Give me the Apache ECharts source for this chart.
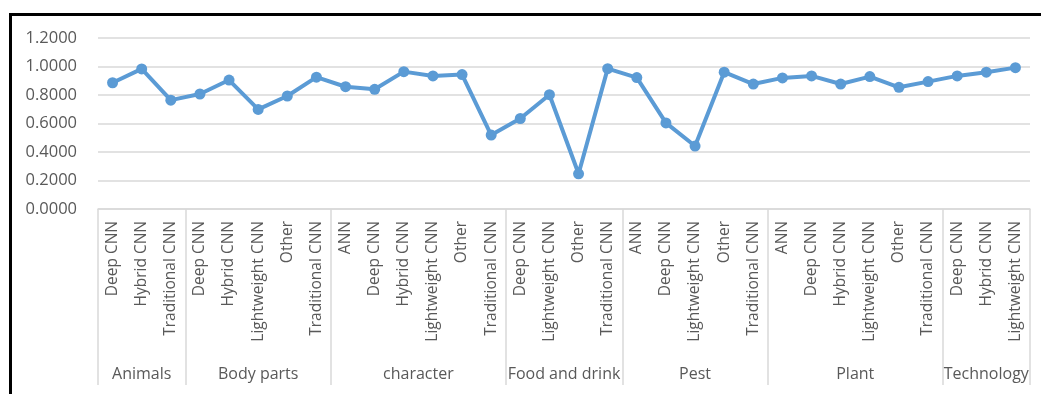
<!DOCTYPE html>
<html>
<head>
<meta charset="utf-8">
<script src="https://cdn.jsdelivr.net/npm/echarts@6/dist/echarts.min.js"></script>
<style>
  html, body { margin: 0; padding: 0; width: 1041px; height: 394px; overflow: hidden; background: #fff; }
  #frame { position: absolute; left: 9px; top: 13px; width: 1100px; height: 500px; border: 3px solid #000; box-sizing: border-box; pointer-events: none; }
  #chart { position: absolute; left: 0; top: 0; width: 1041px; height: 394px; }
</style>
</head>
<body>
<div id="chart"></div>
<div id="frame"></div>
<script>
// Groups (upper level) and their sub-categories (lower level)
const groupNames = ['Animals', 'Body parts', 'character', 'Food and drink', 'Pest', 'Plant', 'Technology'];
const groupItems = [
  ['Deep CNN', 'Hybrid CNN', 'Traditional CNN'],
  ['Deep CNN', 'Hybrid CNN', 'Lightweight CNN', 'Other', 'Traditional CNN'],
  ['ANN', 'Deep CNN', 'Hybrid CNN', 'Lightweight CNN', 'Other', 'Traditional CNN'],
  ['Deep CNN', 'Lightweight CNN', 'Other', 'Traditional CNN'],
  ['ANN', 'Deep CNN', 'Lightweight CNN', 'Other', 'Traditional CNN'],
  ['ANN', 'Deep CNN', 'Hybrid CNN', 'Lightweight CNN', 'Other', 'Traditional CNN'],
  ['Deep CNN', 'Hybrid CNN', 'Lightweight CNN']
];
// Series values, in the same order as the flattened categories
const values = [
  0.886, 0.983, 0.764,
  0.807, 0.905, 0.699, 0.793, 0.925,
  0.858, 0.840, 0.964, 0.934, 0.943, 0.519,
  0.635, 0.802, 0.247, 0.985,
  0.922, 0.604, 0.442, 0.960, 0.877,
  0.920, 0.934, 0.877, 0.929, 0.854, 0.894,
  0.934, 0.960, 0.992
];
const yTicks = { min: 0, max: 1.2, interval: 0.2 };

// Build lower-level category list
const categories = [].concat(...groupItems);
const n = categories.length;

// Upper-level axis: 2n+1 half-step positions; boundaries at even indices, group centres in between
const upperData = new Array(2 * n + 1).fill('');
const boundarySet = new Set([0]);
let start = 0;
groupItems.forEach((items, gi) => {
  const end = start + items.length;
  upperData[start + end] = groupNames[gi];
  boundarySet.add(2 * end);
  start = end;
});

const textColor = '#595959';
const lineGray = '#d9d9d9';
const font = '"Open Sans", "DejaVu Sans", sans-serif';

const chart = echarts.init(document.getElementById('chart'), null, { renderer: 'canvas' });
chart.setOption({
  animation: false,
  grid: { left: 98, right: 11, top: 38, bottom: 185, containLabel: false },
  xAxis: [
    {
      type: 'category',
      data: categories,
      boundaryGap: true,
      position: 'bottom',
      axisLine: { show: true, lineStyle: { color: lineGray, width: 1.5 } },
      axisTick: { show: false },
      axisLabel: {
        interval: 0, rotate: 90, margin: 12,
        color: textColor, fontFamily: font, fontSize: 15.5
      },
      splitLine: { show: false }
    },
    {
      type: 'category',
      data: upperData,
      boundaryGap: false,
      position: 'bottom',
      axisLine: { show: false },
      axisTick: {
        show: true, inside: false, length: 176,
        interval: (i) => boundarySet.has(i),
        lineStyle: { color: lineGray, width: 1.5 }
      },
      axisLabel: {
        interval: (i) => upperData[i] !== '',
        margin: 157,
        color: textColor, fontFamily: font, fontSize: 16
      },
      splitLine: { show: false }
    }
  ],
  yAxis: {
    type: 'value',
    min: yTicks.min, max: yTicks.max, interval: yTicks.interval,
    axisLine: { show: false },
    axisTick: { show: false },
    axisLabel: {
      margin: 21, color: textColor, fontFamily: font, fontSize: 16.5,
      formatter: (v) => v.toFixed(4)
    },
    splitLine: { show: true, lineStyle: { color: lineGray, width: 1.5 } }
  },
  series: [{
    type: 'line',
    xAxisIndex: 0,
    data: values,
    symbol: 'circle',
    symbolSize: 11,
    lineStyle: { color: '#5B9BD5', width: 4 },
    itemStyle: { color: '#5B9BD5' }
  }]
});
</script>
</body>
</html>
